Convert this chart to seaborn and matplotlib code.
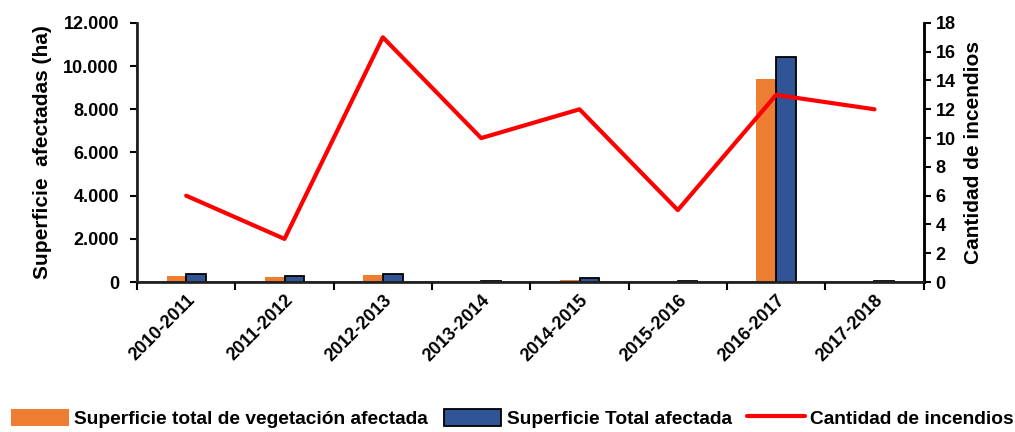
import numpy as np
import pandas as pd
import matplotlib
matplotlib.use("Agg")
import matplotlib.pyplot as plt
from matplotlib.ticker import FuncFormatter, FixedLocator
from matplotlib.patches import Patch
from matplotlib.lines import Line2D
import seaborn as sns

periodos = ["2010-2011", "2011-2012", "2012-2013", "2013-2014",
            "2014-2015", "2015-2016", "2016-2017", "2017-2018"]
sup_vegetacion = [290, 220, 325, 0, 120, 0, 9380, 0]
sup_total = [385, 265, 355, 30, 185, 30, 10420, 40]
cantidad_incendios = [6, 3, 17, 10, 12, 5, 13, 12]

lab_veg = "Superficie total de vegetación afectada"
lab_tot = "Superficie Total afectada"
lab_inc = "Cantidad de incendios"

sns.set_theme(style="ticks")
plt.rcParams["font.family"] = ["Liberation Sans", "DejaVu Sans"]
plt.rcParams["font.weight"] = "bold"
plt.rcParams["text.color"] = "black"
plt.rcParams["axes.labelcolor"] = "black"
plt.rcParams["xtick.color"] = "black"
plt.rcParams["ytick.color"] = "black"

df = pd.DataFrame({
    "periodo": periodos * 2,
    "superficie": sup_vegetacion + sup_total,
    "serie": [lab_veg] * len(periodos) + [lab_tot] * len(periodos),
})

fig, ax = plt.subplots(figsize=(10.15, 4.32), dpi=100)
fig.subplots_adjust(left=0.135, right=0.91, top=0.947, bottom=0.347)

sns.barplot(data=df, x="periodo", y="superficie", hue="serie",
            palette=["#ED7D31", "#2F5597"], saturation=1, width=0.4,
            ax=ax, legend=False)
for i, p in enumerate(ax.patches):
    if i >= len(periodos):
        p.set_edgecolor("black")
        p.set_linewidth(1.3)
    else:
        p.set_linewidth(0)

ax.set_xlim(-0.5, len(periodos) - 0.5)
ax.set_ylim(0, 12000)
ax.set_yticks(np.arange(0, 12001, 2000))
ax.yaxis.set_major_formatter(FuncFormatter(lambda v, _: f"{int(v):,}".replace(",", ".")))
ax.set_xlabel("")
ax.set_ylabel("Superficie  afectadas (ha)", fontsize=15, fontweight="bold", labelpad=8)
ax.tick_params(axis="x", length=0, labelsize=13, pad=7)
ax.xaxis.set_minor_locator(FixedLocator(np.arange(-0.5, len(periodos), 1.0)))
ax.tick_params(axis="x", which="minor", length=6, width=1.5, color="black")
ax.tick_params(axis="y", labelsize=13, length=5, width=1.5, color="black", pad=8)
for lbl in ax.get_xticklabels():
    lbl.set_rotation(45)
    lbl.set_ha("right")
    lbl.set_rotation_mode("anchor")
    lbl.set_fontweight("bold")
for lbl in ax.get_yticklabels():
    lbl.set_fontweight("bold")
for s in ["left", "bottom", "right"]:
    ax.spines[s].set_linewidth(1.8)
    ax.spines[s].set_color("black")
ax.spines["top"].set_visible(False)

ax2 = ax.twinx()
sns.lineplot(x=np.arange(len(periodos)), y=cantidad_incendios, color="#FF0000",
             linewidth=3, ax=ax2, legend=False)
ax2.set_ylim(0, 18)
ax2.set_yticks(np.arange(0, 19, 2))
ax2.set_ylabel(lab_inc, fontsize=15, fontweight="bold", labelpad=6)
ax2.tick_params(axis="y", labelsize=13, length=5, width=1.5, color="black")
for lbl in ax2.get_yticklabels():
    lbl.set_fontweight("bold")
ax2.spines["top"].set_visible(False)
ax2.spines["right"].set_linewidth(1.8)
ax2.spines["right"].set_color("black")
ax2.set_xlim(-0.5, len(periodos) - 0.5)

handles = [Patch(facecolor="#ED7D31", edgecolor="none", label=lab_veg),
           Patch(facecolor="#2F5597", edgecolor="black", linewidth=1.3, label=lab_tot),
           Line2D([0], [0], color="#FF0000", linewidth=3, label=lab_inc)]
fig.legend(handles=handles, loc="lower center", ncol=3, frameon=False,
           bbox_to_anchor=(0.505, -0.03), handlelength=3.0,
           handleheight=1.0, columnspacing=0.8, handletextpad=0.3,
           prop={"weight": "bold", "size": 13.8})

fig.savefig("out.png", dpi=100)
